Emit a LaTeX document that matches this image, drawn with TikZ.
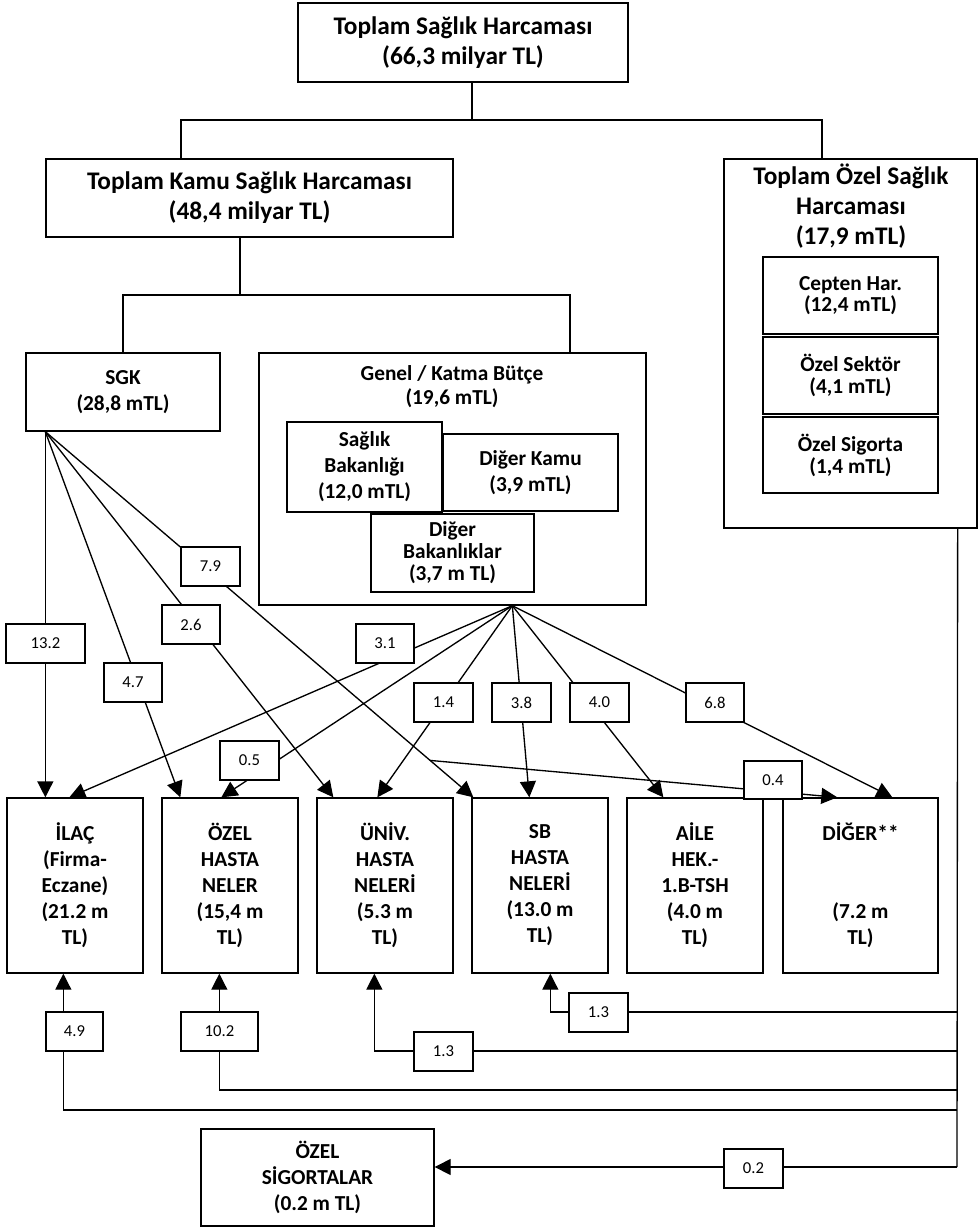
\documentclass[tikz,border=0pt]{standalone}
\usepackage{fontspec}
\setmainfont{Carlito}
\usetikzlibrary{arrows.meta,calc}
\tikzset{
  bb/.style n args={4}{minimum width={(#3-#1)*0.75pt}, minimum height={(#4-#2)*0.75pt}, at={({(#1+#3)/2},{(#2+#4)/2})}},
  bx/.style={draw, line width=1pt, fill=white, inner sep=0pt, align=center, font=\bfseries\fontsize{16}{19.5}\selectfont},
  ttl/.style={align=center, inner sep=0pt, font=\bfseries\fontsize{19}{22.5}\selectfont},
  lb/.style={draw, line width=1pt, fill=white, inner sep=0pt, font=\fontsize{12.5}{14}\selectfont},
  ln/.style={line width=1pt},
  arr/.style={line width=1pt, -{Triangle[length=12pt,width=12pt]}},
}
\begin{document}
\begin{tikzpicture}[x=0.75pt,y=-0.75pt]
\useasboundingbox (0,0) rectangle (980,1227);
\fill[white] (0,0) rectangle (980,1227);

% top level
\node[bx, ttl, draw, bb={298}{3}{628}{82}] (top) {Toplam Sağlık Harcaması\\(66,3 milyar TL)};
\node[bx, ttl, draw, bb={46}{159}{453}{237}] (kamu) {Toplam Kamu Sağlık Harcaması\\(48,4 milyar TL)};
\node[bx, bb={724}{159}{977}{528}] (ozel) {};
\node[ttl] (ozelt) at (851,206) {Toplam Özel Sağlık\\Harcaması\\(17,9 mTL)};
\node[bx, font=\bfseries\fontsize{16}{15.5}\selectfont, bb={763}{257}{938}{334}] (cep) {Cepten Har.\\(12,4 mTL)};
\node[bx, font=\bfseries\fontsize{16}{17}\selectfont, bb={763}{337}{938}{414}] (ozsek) {Özel Sektör\\(4,1 mTL)};
\node[bx, font=\bfseries\fontsize{16}{16.5}\selectfont, bb={763}{417}{938}{493}] (ozsig2) {Özel Sigorta\\(1,4 mTL)};

% second level
\node[bx, font=\bfseries\fontsize{16}{20}\selectfont, bb={26}{353}{220}{431}] (sgk) {SGK\\(28,8 mTL)};
\node[bx, bb={259}{353}{646}{605}] (genel) {};
\node[align=center, inner sep=0pt, font=\bfseries\fontsize{16}{18}\selectfont] (genelt) at (452,387) {Genel / Katma Bütçe\\(19,6 mTL)};
\node[bx, bb={287}{422}{442}{512}] (sb0) {Sağlık\\Bakanlığı\\(12,0 mTL)};
\node[bx, font=\bfseries\fontsize{16}{19}\selectfont, bb={443}{434}{618}{511}] (dk) {Diğer Kamu\\(3,9 mTL)};
\node[bx, font=\bfseries\fontsize{16}{16.5}\selectfont, bb={371}{514}{534}{592}] (db) {Diğer\\Bakanlıklar\\(3,7 m TL)};

% bottom boxes
\node[bx, bb={7}{798}{143}{973}] (ilac) {İLAÇ\\(Firma-\\Eczane)\\(21.2 m\\TL)};
\node[bx, bb={162}{798}{298}{973}] (ozh) {ÖZEL\\HASTA\\NELER\\(15,4 m\\TL)};
\node[bx, bb={317}{798}{453}{973}] (univ) {ÜNİV.\\HASTA\\NELERİ\\(5.3 m\\TL)};
\node[bx, bb={472}{798}{608}{973}] (sbh) {SB\\HASTA\\NELERİ\\(13.0 m\\TL)};
\node[bx, bb={627}{798}{763}{973}] (aile) {AİLE\\HEK.-\\1.B-TSH\\(4.0 m\\TL)};
\node[bx, bb={783}{798}{938}{973}] (dig) {DİĞER**\\~\\~\\(7.2 m\\TL)};
\node[bx, bb={201}{1129}{434}{1226}] (ozs) {ÖZEL\\SİGORTALAR\\(0.2 m TL)};

% tree connectors
\coordinate (j0) at (472,120);
\coordinate (xk) at (181,0);
\coordinate (xo) at (822,0);
\draw[ln] (top.south -| j0) -- (j0);
\draw[ln] (kamu.north -| xk) |- (j0) -| (ozel.north -| xo);
\coordinate (j1) at (240,295);
\coordinate (xs) at (123,0);
\coordinate (xg) at (570,0);
\draw[ln] (kamu.south -| j1) -- (j1);
\draw[ln] (sgk.north -| xs) |- (j1) -| (genel.north -| xg);

% fan points and targets
\coordinate (sgkfan) at ($(sgk.south west)+(20,0)$);
\coordinate (genfan) at ($(genel.south west)+(254,0)$);
\coordinate (ilacA) at ($(ilac.north west)+(39,0)$);
\coordinate (ilacB) at ($(ilac.north west)+(63,0)$);
\coordinate (ozhA) at ($(ozh.north west)+(19,0)$);
\coordinate (ozhB) at ($(ozh.north west)+(60,0)$);
\coordinate (univA) at ($(univ.north west)+(17,0)$);
\coordinate (univB) at ($(univ.north west)+(61,0)$);
\coordinate (sbA) at ($(sbh.north west)+(2,0)$);
\coordinate (sbB) at ($(sbh.north west)+(58,0)$);
\coordinate (aileT) at ($(aile.north west)+(37,0)$);
\coordinate (digA) at ($(dig.north west)+(55,0)$);
\coordinate (digB) at ($(dig.north west)+(110,0)$);
\coordinate (b04) at ($(sgkfan)!0.899!(sbA)$);

% SGK flows
\draw[arr] (sgkfan) -- (ilacA);
\draw[arr] (sgkfan) -- (ozhA);
\draw[arr] (sgkfan) -- (univA);
\draw[arr] (sgkfan) -- (sbA);
\draw[arr] (b04) -- (digA);

% Genel butce flows
\draw[arr] (genfan) -- (ilacB);
\draw[arr] (genfan) -- (ozhB);
\draw[arr] (genfan) -- (univB);
\draw[arr] (genfan) -- (sbB);
\draw[arr] (genfan) -- (aileT);
\draw[arr] (genfan) -- (digB);

% private flows
\coordinate (ozbot) at ($(ozel.south east)+(-20,0)$);
\coordinate (r1) at (957,1012);
\coordinate (r2) at (957,1051);
\coordinate (r3) at (957,1090);
\coordinate (r4) at (957,1110);
\coordinate (r5) at (957,1167);
\draw[ln] (ozbot) -- (r5);
\draw[arr] (r1) -| ($(sbh.south west)+(79,0)$);
\draw[arr] (r2) -| ($(univ.south west)+(58,0)$);
\draw[arr] (r3) -| ($(ozh.south west)+(58,0)$);
\draw[arr] (r4) -| ($(ilac.south west)+(57,0)$);
\draw[arr] (r5) -- (ozs.east |- r5);

% value labels
\node[lb, bb={6}{624}{85}{663}] (l132) {13.2};
\node[lb, bb={104}{663}{162}{702}] (l47) {4.7};
\node[lb, bb={162}{605}{220}{644}] (l26) {2.6};
\node[lb, bb={181}{547}{240}{586}] (l79) {7.9};
\node[lb, bb={356}{624}{414}{663}] (l31) {3.1};
\node[lb, bb={220}{741}{279}{780}] (l05) {0.5};
\node[lb, bb={414}{683}{473}{722}] (l14) {1.4};
\node[lb, bb={492}{683}{551}{722}] (l38) {3.8};
\node[lb, bb={570}{683}{629}{722}] (l40) {4.0};
\node[lb, bb={686}{683}{744}{722}] (l68) {6.8};
\node[lb, bb={744}{761}{802}{799}] (l04) {0.4};
\node[lb, bb={569}{993}{628}{1032}] (l13a) {1.3};
\node[lb, bb={414}{1032}{473}{1071}] (l13b) {1.3};
\node[lb, bb={181}{1012}{258}{1051}] (l102) {10.2};
\node[lb, bb={46}{1012}{103}{1051}] (l49) {4.9};
\node[lb, bb={724}{1149}{783}{1188}] (l02) {0.2};
\end{tikzpicture}
\end{document}
